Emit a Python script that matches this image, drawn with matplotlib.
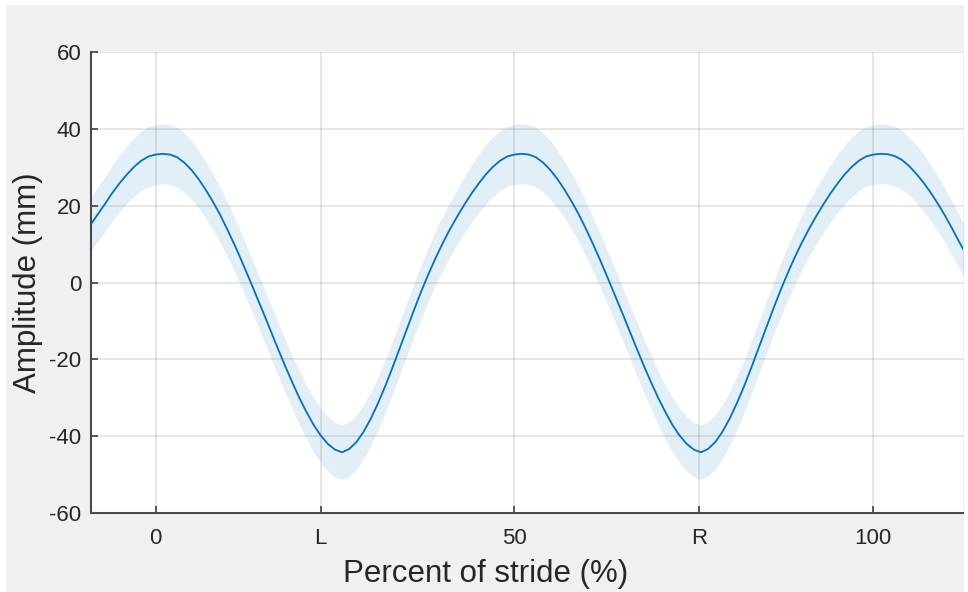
import numpy as np
import matplotlib
matplotlib.use('Agg')
import matplotlib.pyplot as plt
from matplotlib.patches import Rectangle

# percent of stride, one sample per percent
stride = np.arange(-9, 114)

# mean amplitude (mm)
amplitude = [
    15.2, 17.9, 20.6, 23.4, 25.9, 28.1, 30.1, 31.7, 32.8, 33.3, 33.5,
    33.3, 32.6, 31.2, 29.3, 26.9, 24.1, 21.0, 17.6, 13.8, 9.8, 5.6, 1.2, -3.3,
    -7.8, -12.4, -17.0, -21.5, -25.8, -29.9, -33.6, -37.0, -39.8, -42.0, -43.5, -44.2,
    -43.3, -41.5, -38.8, -35.4, -31.4, -27.0, -22.2, -17.2, -12.2, -7.2, -2.4, 2.1,
    6.3, 10.2, 13.8, 17.1, 20.2, 23.1, 25.7, 28.1, 30.1, 31.7, 32.8, 33.3, 33.5,
    33.3, 32.6, 31.2, 29.3, 26.9, 24.1, 21.0, 17.6, 13.8, 9.8, 5.6, 1.2, -3.3,
    -7.8, -12.4, -17.0, -21.5, -25.8, -29.9, -33.6, -37.0, -39.8, -42.0, -43.5, -44.2,
    -43.3, -41.5, -38.8, -35.4, -31.4, -27.0, -22.2, -17.2, -12.2, -7.2, -2.4, 2.1,
    6.3, 10.2, 13.8, 17.1, 20.2, 23.1, 25.7, 28.1, 30.1, 31.7, 32.8, 33.3, 33.5,
    33.4, 32.9, 31.9, 30.3, 28.3, 26.0, 23.4, 20.5, 17.4, 14.0, 10.5, 7.0,
]

# half width of the shaded band (mm)
spread = [
    7.0, 7.1, 7.2, 7.3, 7.4,
    7.5, 7.6, 7.7, 7.8, 7.8, 7.8, 7.8, 7.8, 7.7, 7.6,
    7.5, 7.4, 7.3, 7.2, 7.1, 7.0, 7.0, 6.9, 6.9, 6.9, 6.9, 7.0, 7.0, 7.0, 7.0,
    7.0, 7.1, 7.1, 7.1, 7.1, 7.1, 7.1, 7.1, 7.1, 7.0, 7.0,
    6.9, 6.9, 6.9, 6.9, 6.9, 7.0, 7.0, 7.1, 7.1, 7.2, 7.3, 7.4, 7.5, 7.6,
    7.7, 7.8, 7.8, 7.8, 7.8, 7.8, 7.8, 7.8, 7.7, 7.6, 7.5,
    7.4, 7.3, 7.2, 7.1, 7.0, 7.0, 6.9, 6.9, 6.9, 6.9, 7.0, 7.0, 7.0, 7.0,
    7.0, 7.1, 7.1, 7.1, 7.1, 7.1, 7.1, 7.1, 7.1, 7.0, 7.0,
    6.9, 6.9, 6.9, 6.9, 6.9, 7.0, 7.0, 7.1, 7.1, 7.2, 7.3, 7.4, 7.5, 7.6,
    7.7, 7.8, 7.8, 7.8, 7.8, 7.8, 7.8, 7.8, 7.7, 7.6, 7.5,
    7.4, 7.3, 7.2, 7.1, 7.0, 7.0, 6.9,
]

tick_pos = [0, 23, 50, 75.7, 100]
tick_labels = ['0', 'L', '50', 'R', '100']
y_ticks = [-60, -40, -20, 0, 20, 40, 60]

plt.rcParams['font.family'] = ['Liberation Sans', 'DejaVu Sans']
plt.rcParams['axes.unicode_minus'] = False
text_col = '#262626'

fig = plt.figure(figsize=(9.68, 5.92), dpi=100)
fig.patch.set_facecolor('#f0f0f0')
ax = fig.add_axes([0.094, 0.1334, 0.9008, 0.7788])
ax.set_facecolor('white')

mean = np.array(amplitude)
sd = np.array(spread)
ax.fill_between(stride, mean - sd, mean + sd, color='#0072BD', alpha=0.11, linewidth=0)
ax.plot(stride, mean, color='#0072BD', linewidth=1.3, solid_joinstyle='round')

ax.set_xlim(-9, 112.5)
ax.set_ylim(-60, 60)
ax.set_xticks(tick_pos)
ax.set_xticklabels(tick_labels)
ax.set_yticks(y_ticks)
ax.grid(True, color='#262626', alpha=0.15, linewidth=1.1)

for side in ['top', 'right']:
    ax.spines[side].set_visible(False)
for side in ['left', 'bottom']:
    ax.spines[side].set_color('#4a4a4a')
    ax.spines[side].set_linewidth(1.5)

ax.tick_params(direction='in', length=5, width=1.3, color='#4a4a4a',
               labelsize=16, labelcolor=text_col, pad=7)
ax.tick_params(axis='x', pad=11)

ax.set_xlabel('Percent of stride (%)', fontsize=22.5, color=text_col)
ax.set_ylabel('Amplitude (mm)', fontsize=22.5, color=text_col)
ax.xaxis.set_label_coords(0.453, -0.1)
ax.yaxis.set_label_coords(-0.055, 0.5)

# white margins of the original screenshot
fig.patches.append(Rectangle((0, 0.9916), 1, 0.0084, transform=fig.transFigure,
                             facecolor='white', edgecolor='none'))
fig.patches.append(Rectangle((0, 0), 0.0062, 1, transform=fig.transFigure,
                             facecolor='white', edgecolor='none'))
fig.patches.append(Rectangle((0.9959, 0), 0.0041, 1, transform=fig.transFigure,
                             facecolor='white', edgecolor='none'))

fig.savefig('out.png', dpi=100, facecolor=fig.get_facecolor())
